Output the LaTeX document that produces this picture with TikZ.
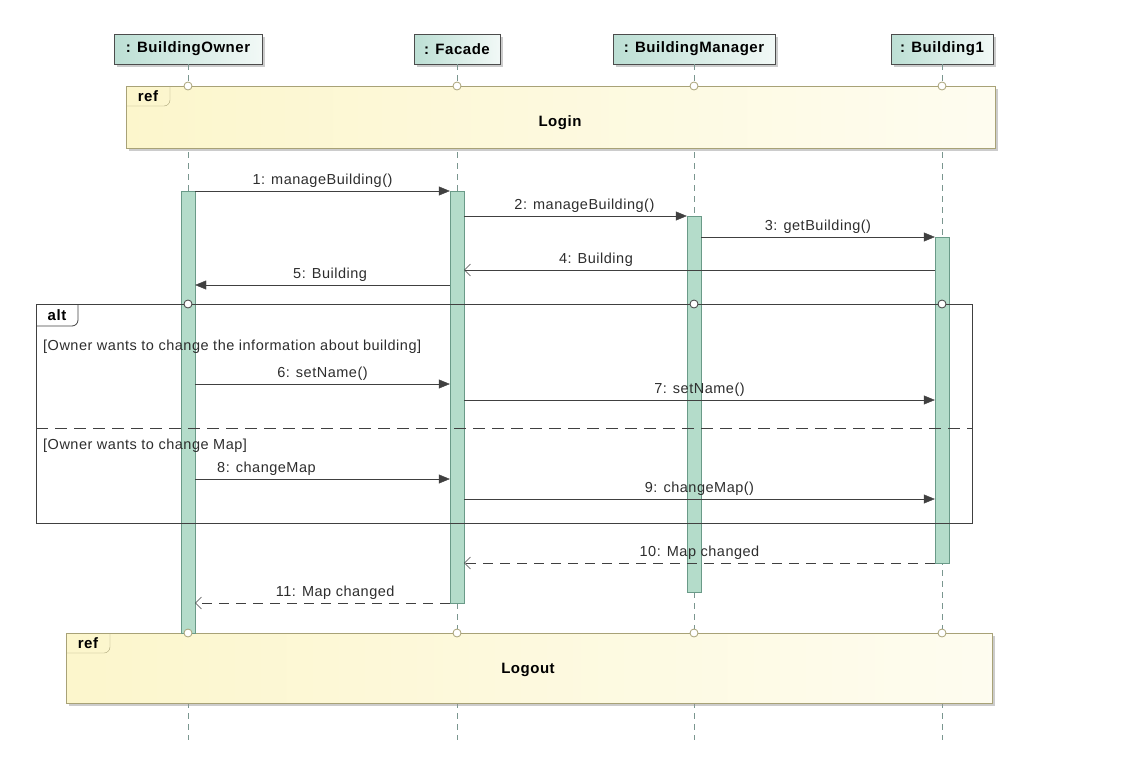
\documentclass[tikz,border=0pt]{standalone}
\usepackage{fontspec}
\setmainfont{Liberation Sans}
\newfontfamily\umlfont[LetterSpace=3.5]{Liberation Sans}
\usetikzlibrary{arrows.meta,shadows}
\definecolor{headteal}{HTML}{BCDFD4}
\definecolor{barteal}{HTML}{B4DCCA}
\definecolor{bardark}{HTML}{6A9A88}
\definecolor{lifegray}{HTML}{7A968F}
\definecolor{refyellow}{HTML}{FCF6CC}
\definecolor{refedge}{HTML}{A8A277}
\definecolor{msggray}{HTML}{404040}
\newcommand{\msgSize}[0]{\umlfont\fontsize{14.5}{17}\selectfont}
\newcommand{\boldSize}[0]{\umlfont\bfseries\fontsize{15}{18}\selectfont}

\begin{document}
\begin{tikzpicture}[x=1pt, y=-1pt]
  \tikzset{
    lifehead/.style={draw=gray!60!black, left color=headteal, right color=headteal!20,
      font=\boldSize, minimum height=30pt, inner sep=0pt,
      drop shadow={shadow xshift=2.5pt, shadow yshift=-2.5pt, fill=black!40, opacity=.5}},
    lifeline/.style={draw=lifegray, dash pattern=on 6pt off 5pt},
    actbar/.style={draw=bardark, fill=barteal, minimum width=14pt, inner sep=0pt, anchor=north},
    call/.style={draw=msggray, -{Triangle[length=11pt,width=9pt]}},
    answer/.style={draw=msggray, -{Straight Barb[length=6pt,width=12pt]}},
    answerdash/.style={answer, dash pattern=on 10pt off 7pt},
    msg/.style={font=\msgSize, above, inner sep=1pt, yshift=2.5pt, text=msggray!70!black},
    refbox/.style={draw=refedge, left color=refyellow, right color=refyellow!30, anchor=north west,
      drop shadow={shadow xshift=3pt, shadow yshift=-3pt, fill=black!40, opacity=.5}},
    altbox/.style={draw=msggray, thick, anchor=north west},
    tab/.style={rounded corners=6pt},
    gate/.style={circle, fill=white, inner sep=0pt, minimum size=8pt, line width=.8pt},
    guard/.style={font=\msgSize, anchor=west, inner sep=0pt, text=msggray!70!black}
  }
  \useasboundingbox (0,0) rectangle (1128,774);

  % lifelines
  \node[lifehead, minimum width=148pt] (owner) at (188,49) {: BuildingOwner};
  \node[lifehead, minimum width=86pt] (facade) at (457,49) {: Facade};
  \node[lifehead, minimum width=162pt] (manager) at (694,49) {: BuildingManager};
  \node[lifehead, minimum width=102pt] (bldg) at (942,49) {: Building1};
  \foreach \who in {owner,facade,manager,bldg}
    \draw[lifeline] (\who.south) -- (\who.south |- 0,740);

  % interaction uses
  \node[refbox, minimum width=869pt, minimum height=62pt] (login) at (126,86) {};
  \node[font=\boldSize] at (560,123) {Login};
  \node[refbox, minimum width=926pt, minimum height=70pt] (logout) at (66,633) {};
  \node[font=\boldSize] at (528,670) {Logout};
  \foreach \fr in {login,logout} {
    \draw[refedge, tab] (\fr.north west) ++(0,20) -- ++(44,0) -- ++(0,-20);
    \node[font=\boldSize] at ([xshift=22pt, yshift=-10pt]\fr.north west) {ref};
  }

  % activations
  \node[actbar, minimum height=442pt] (obar) at (owner.south |- 0,191) {};
  \node[actbar, minimum height=412pt] (fbar) at (facade.south |- 0,191) {};
  \node[actbar, minimum height=376pt] (mbar) at (manager.south |- 0,216) {};
  \node[actbar, minimum height=326pt] (bbar) at (bldg.south |- 0,237) {};

  \foreach \who in {owner,facade,manager,bldg} {
    \node[gate, draw=refedge] at (\who.south |- 0,86) {};
    \node[gate, draw=refedge] at (\who.south |- 0,633) {};
  }

  % alternatives
  \node[altbox, minimum width=936pt, minimum height=219pt] (alt) at (36,304) {};
  \draw[msggray, thick, tab] (alt.north west) ++(0,22) -- ++(42,0) -- ++(0,-22);
  \node[font=\boldSize] at ([xshift=21pt, yshift=-11pt]alt.north west) {alt};
  \draw[msggray, thick, dash pattern=on 12pt off 7pt] (alt.west |- 0,428) -- (alt.east |- 0,428);
  \foreach \who in {owner,manager,bldg}
    \node[gate, draw=msggray] at (\who.south |- 0,304) {};
  \node[guard] at (43,347) {[Owner wants to change the information about building]};
  \node[guard] at (43,446) {[Owner wants to change Map]};

  % messages
  \draw[call] (obar.east |- 0,191) -- (fbar.west |- 0,191) node[msg, pos=.5] {1: manageBuilding()};
  \draw[call] (fbar.east |- 0,216) -- (mbar.west |- 0,216) node[msg, pos=.54] {2: manageBuilding()};
  \draw[call] (mbar.east |- 0,237) -- (bbar.west |- 0,237) node[msg, pos=.5] {3: getBuilding()};
  \draw[answer] (bbar.west |- 0,270) -- (fbar.east |- 0,270) node[msg, pos=.72] {4: Building};
  \draw[call] (fbar.west |- 0,285) -- (obar.east |- 0,285) node[msg, pos=.47] {5: Building};
  \draw[call] (obar.east |- 0,384) -- (fbar.west |- 0,384) node[msg, pos=.5] {6: setName()};
  \draw[call] (fbar.east |- 0,400) -- (bbar.west |- 0,400) node[msg, pos=.5] {7: setName()};
  \draw[call] (obar.east |- 0,479) -- (fbar.west |- 0,479) node[msg, pos=.28] {8: changeMap};
  \draw[call] (fbar.east |- 0,499) -- (bbar.west |- 0,499) node[msg, pos=.5] {9: changeMap()};
  \draw[answerdash] (bbar.west |- 0,563) -- (fbar.east |- 0,563) node[msg, pos=.5] {10: Map changed};
  \draw[answerdash] (fbar.west |- 0,603) -- (obar.east |- 0,603) node[msg, pos=.45] {11: Map changed};
\end{tikzpicture}
\end{document}
